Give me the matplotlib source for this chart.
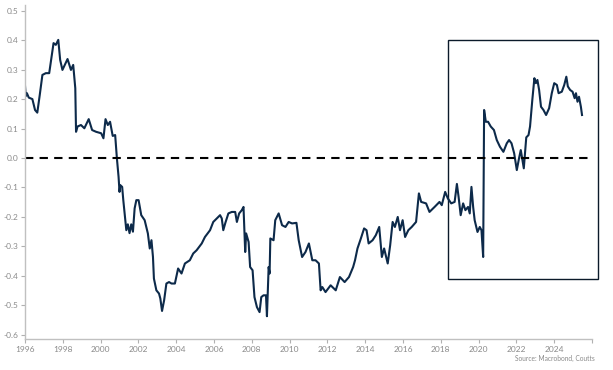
import matplotlib
matplotlib.use("Agg")
import matplotlib.pyplot as plt
from matplotlib.patches import Rectangle

plt.rcParams.update({"font.family": ["Lato", "DejaVu Sans"]})

# decimal years and values
years = [
    1996.00, 1996.04, 1996.10, 1996.20, 1996.39, 1996.53, 1996.65, 1996.78, 1996.92,
    1997.10, 1997.28, 1997.37, 1997.51, 1997.63, 1997.76, 1997.86, 1997.98,
    1998.25, 1998.43, 1998.55, 1998.66, 1998.70, 1998.78, 1998.96,
    1999.14, 1999.37, 1999.55, 1999.76,
    2000.03, 2000.15, 2000.26, 2000.38, 2000.50, 2000.64, 2000.77, 2000.86, 2000.95,
    2001.00, 2001.04, 2001.14, 2001.20, 2001.27, 2001.36, 2001.44, 2001.53, 2001.62,
    2001.71, 2001.80, 2001.89,
    2002.01, 2002.15, 2002.33, 2002.50, 2002.60, 2002.69, 2002.77, 2002.82, 2002.95,
    2003.09, 2003.16, 2003.25, 2003.36, 2003.48, 2003.62, 2003.75, 2003.93,
    2004.10, 2004.28, 2004.46, 2004.72, 2004.90,
    2005.08, 2005.35, 2005.52, 2005.79, 2005.96,
    2006.23, 2006.32, 2006.41, 2006.49, 2006.60, 2006.76, 2006.94,
    2007.12, 2007.21, 2007.33, 2007.47, 2007.56, 2007.65, 2007.70, 2007.83, 2007.91,
    2008.04, 2008.14, 2008.27, 2008.41, 2008.50, 2008.62, 2008.75, 2008.80, 2008.89,
    2008.94, 2008.98,
    2009.15, 2009.24, 2009.42, 2009.60, 2009.78, 2009.95,
    2010.13, 2010.36, 2010.48, 2010.66, 2010.84,
    2011.02, 2011.20, 2011.37, 2011.55, 2011.64, 2011.73, 2011.90,
    2012.17, 2012.44, 2012.66, 2012.91,
    2013.14, 2013.36, 2013.46, 2013.59, 2013.77, 2013.94,
    2014.07, 2014.18, 2014.39, 2014.56, 2014.74, 2014.88,
    2015.00, 2015.19, 2015.32, 2015.45, 2015.57, 2015.72, 2015.84, 2015.98,
    2016.11, 2016.28, 2016.46, 2016.69, 2016.84, 2016.96,
    2017.22, 2017.40, 2017.67, 2017.93,
    2018.05, 2018.23, 2018.37, 2018.55, 2018.73, 2018.85, 2018.94,
    2019.05, 2019.18, 2019.30, 2019.44, 2019.53, 2019.62, 2019.71, 2019.79, 2019.94,
    2020.06, 2020.15, 2020.24, 2020.29, 2020.38, 2020.50, 2020.64, 2020.81, 2020.96,
    2021.13, 2021.31, 2021.49, 2021.61, 2021.74, 2021.88,
    2022.02, 2022.14, 2022.23, 2022.39, 2022.52, 2022.64, 2022.72, 2022.84, 2022.95,
    2023.03, 2023.11, 2023.20, 2023.30, 2023.43, 2023.57, 2023.73, 2023.87,
    2024.00, 2024.14, 2024.23, 2024.40, 2024.53, 2024.64, 2024.72, 2024.84, 2024.97,
    2025.08, 2025.15, 2025.23, 2025.31, 2025.41, 2025.47,
]
values = [
    0.245, 0.210, 0.220, 0.205, 0.200, 0.163, 0.154, 0.214, 0.282,
    0.288, 0.288, 0.328, 0.390, 0.384, 0.401, 0.333, 0.299,
    0.336, 0.299, 0.316, 0.237, 0.089, 0.107, 0.112,
    0.101, 0.132, 0.095, 0.089,
    0.084, 0.067, 0.132, 0.112, 0.123, 0.075, 0.078, 0.000, -0.064,
    -0.115, -0.092, -0.098, -0.143, -0.188, -0.245, -0.225, -0.255, -0.225,
    -0.250, -0.171, -0.143,
    -0.143, -0.194, -0.211, -0.256, -0.307, -0.279, -0.336, -0.409, -0.449,
    -0.460, -0.477, -0.519, -0.483, -0.426, -0.421, -0.426, -0.426,
    -0.375, -0.392, -0.358, -0.347, -0.324,
    -0.313, -0.290, -0.268, -0.245, -0.217,
    -0.200, -0.194, -0.205, -0.245, -0.220, -0.188, -0.183,
    -0.183, -0.217, -0.188, -0.177, -0.166, -0.319, -0.256, -0.285, -0.370,
    -0.381, -0.472, -0.506, -0.523, -0.472, -0.466, -0.466, -0.537, -0.370,
    -0.392, -0.273,
    -0.279, -0.211, -0.188, -0.228, -0.234, -0.217,
    -0.222, -0.220, -0.279, -0.336, -0.319,
    -0.290, -0.347, -0.347, -0.358, -0.449, -0.438, -0.455,
    -0.432, -0.449, -0.404, -0.421,
    -0.404, -0.370, -0.347, -0.307, -0.273, -0.239,
    -0.245, -0.290, -0.279, -0.262, -0.234, -0.336,
    -0.307, -0.358, -0.296, -0.217, -0.234, -0.200, -0.245, -0.211,
    -0.268, -0.245, -0.234, -0.217, -0.120, -0.149,
    -0.154, -0.183, -0.166, -0.149,
    -0.160, -0.115, -0.137, -0.154, -0.149, -0.088, -0.132,
    -0.194, -0.154, -0.177, -0.166, -0.188, -0.098, -0.166, -0.211, -0.251,
    -0.234, -0.245, -0.336, 0.163, 0.123, 0.123, 0.107, 0.095, 0.061,
    0.038, 0.021, 0.050, 0.061, 0.050, 0.016,
    -0.041, 0.000, 0.027, -0.035, 0.070, 0.078, 0.107, 0.197, 0.271,
    0.254, 0.265, 0.231, 0.174, 0.163, 0.146, 0.169, 0.220,
    0.254, 0.248, 0.220, 0.225, 0.248, 0.276, 0.243, 0.231, 0.225,
    0.203, 0.220, 0.191, 0.208, 0.174, 0.146,
]

yticks = [0.5, 0.4, 0.3, 0.2, 0.1, 0.0, -0.1, -0.2, -0.3, -0.4, -0.5, -0.6]
xticks = list(range(1996, 2027, 2))
xlabels = [str(y) if y < 2026 else "" for y in xticks]
box_x = (2018.39, 2026.3)
box_y = (-0.41, 0.40)

NAVY = "#0d2a4a"
GREY = "#8a8a8a"

fig = plt.figure(figsize=(6.13, 3.7), dpi=100)
ax = fig.add_axes([0.0408, 0.084, 0.925, 0.903])

ax.plot(years, values, color=NAVY, lw=1.5, solid_joinstyle="round")
ax.plot([1996, 2025.8], [0, 0], color="black", lw=1.5, dashes=(4, 3))

ax.add_patch(Rectangle((box_x[0], box_y[0]), box_x[1] - box_x[0], box_y[1] - box_y[0],
                       fill=False, edgecolor="#0b1a2a", lw=1.0, clip_on=False))

ax.set_xlim(1996, 2026)
ax.set_ylim(-0.614, 0.52)
ax.set_yticks(yticks)
ax.set_yticklabels([f"{v:.1f}" for v in yticks])
ax.set_xticks(xticks)
ax.set_xticklabels(xlabels)

for s in ["top", "right"]:
    ax.spines[s].set_visible(False)
for s in ["left", "bottom"]:
    ax.spines[s].set_color("#c0c0c0")
    ax.spines[s].set_linewidth(1.0)
ax.tick_params(axis="both", colors="#b0b0b0", labelcolor=GREY, labelsize=6,
               length=3, width=0.8, pad=2)

fig.text(0.97, 0.022, "Source: Macrobond, Coutts", ha="right", va="bottom",
         fontsize=4.8, color=GREY)

fig.savefig("out.png", dpi=100)
